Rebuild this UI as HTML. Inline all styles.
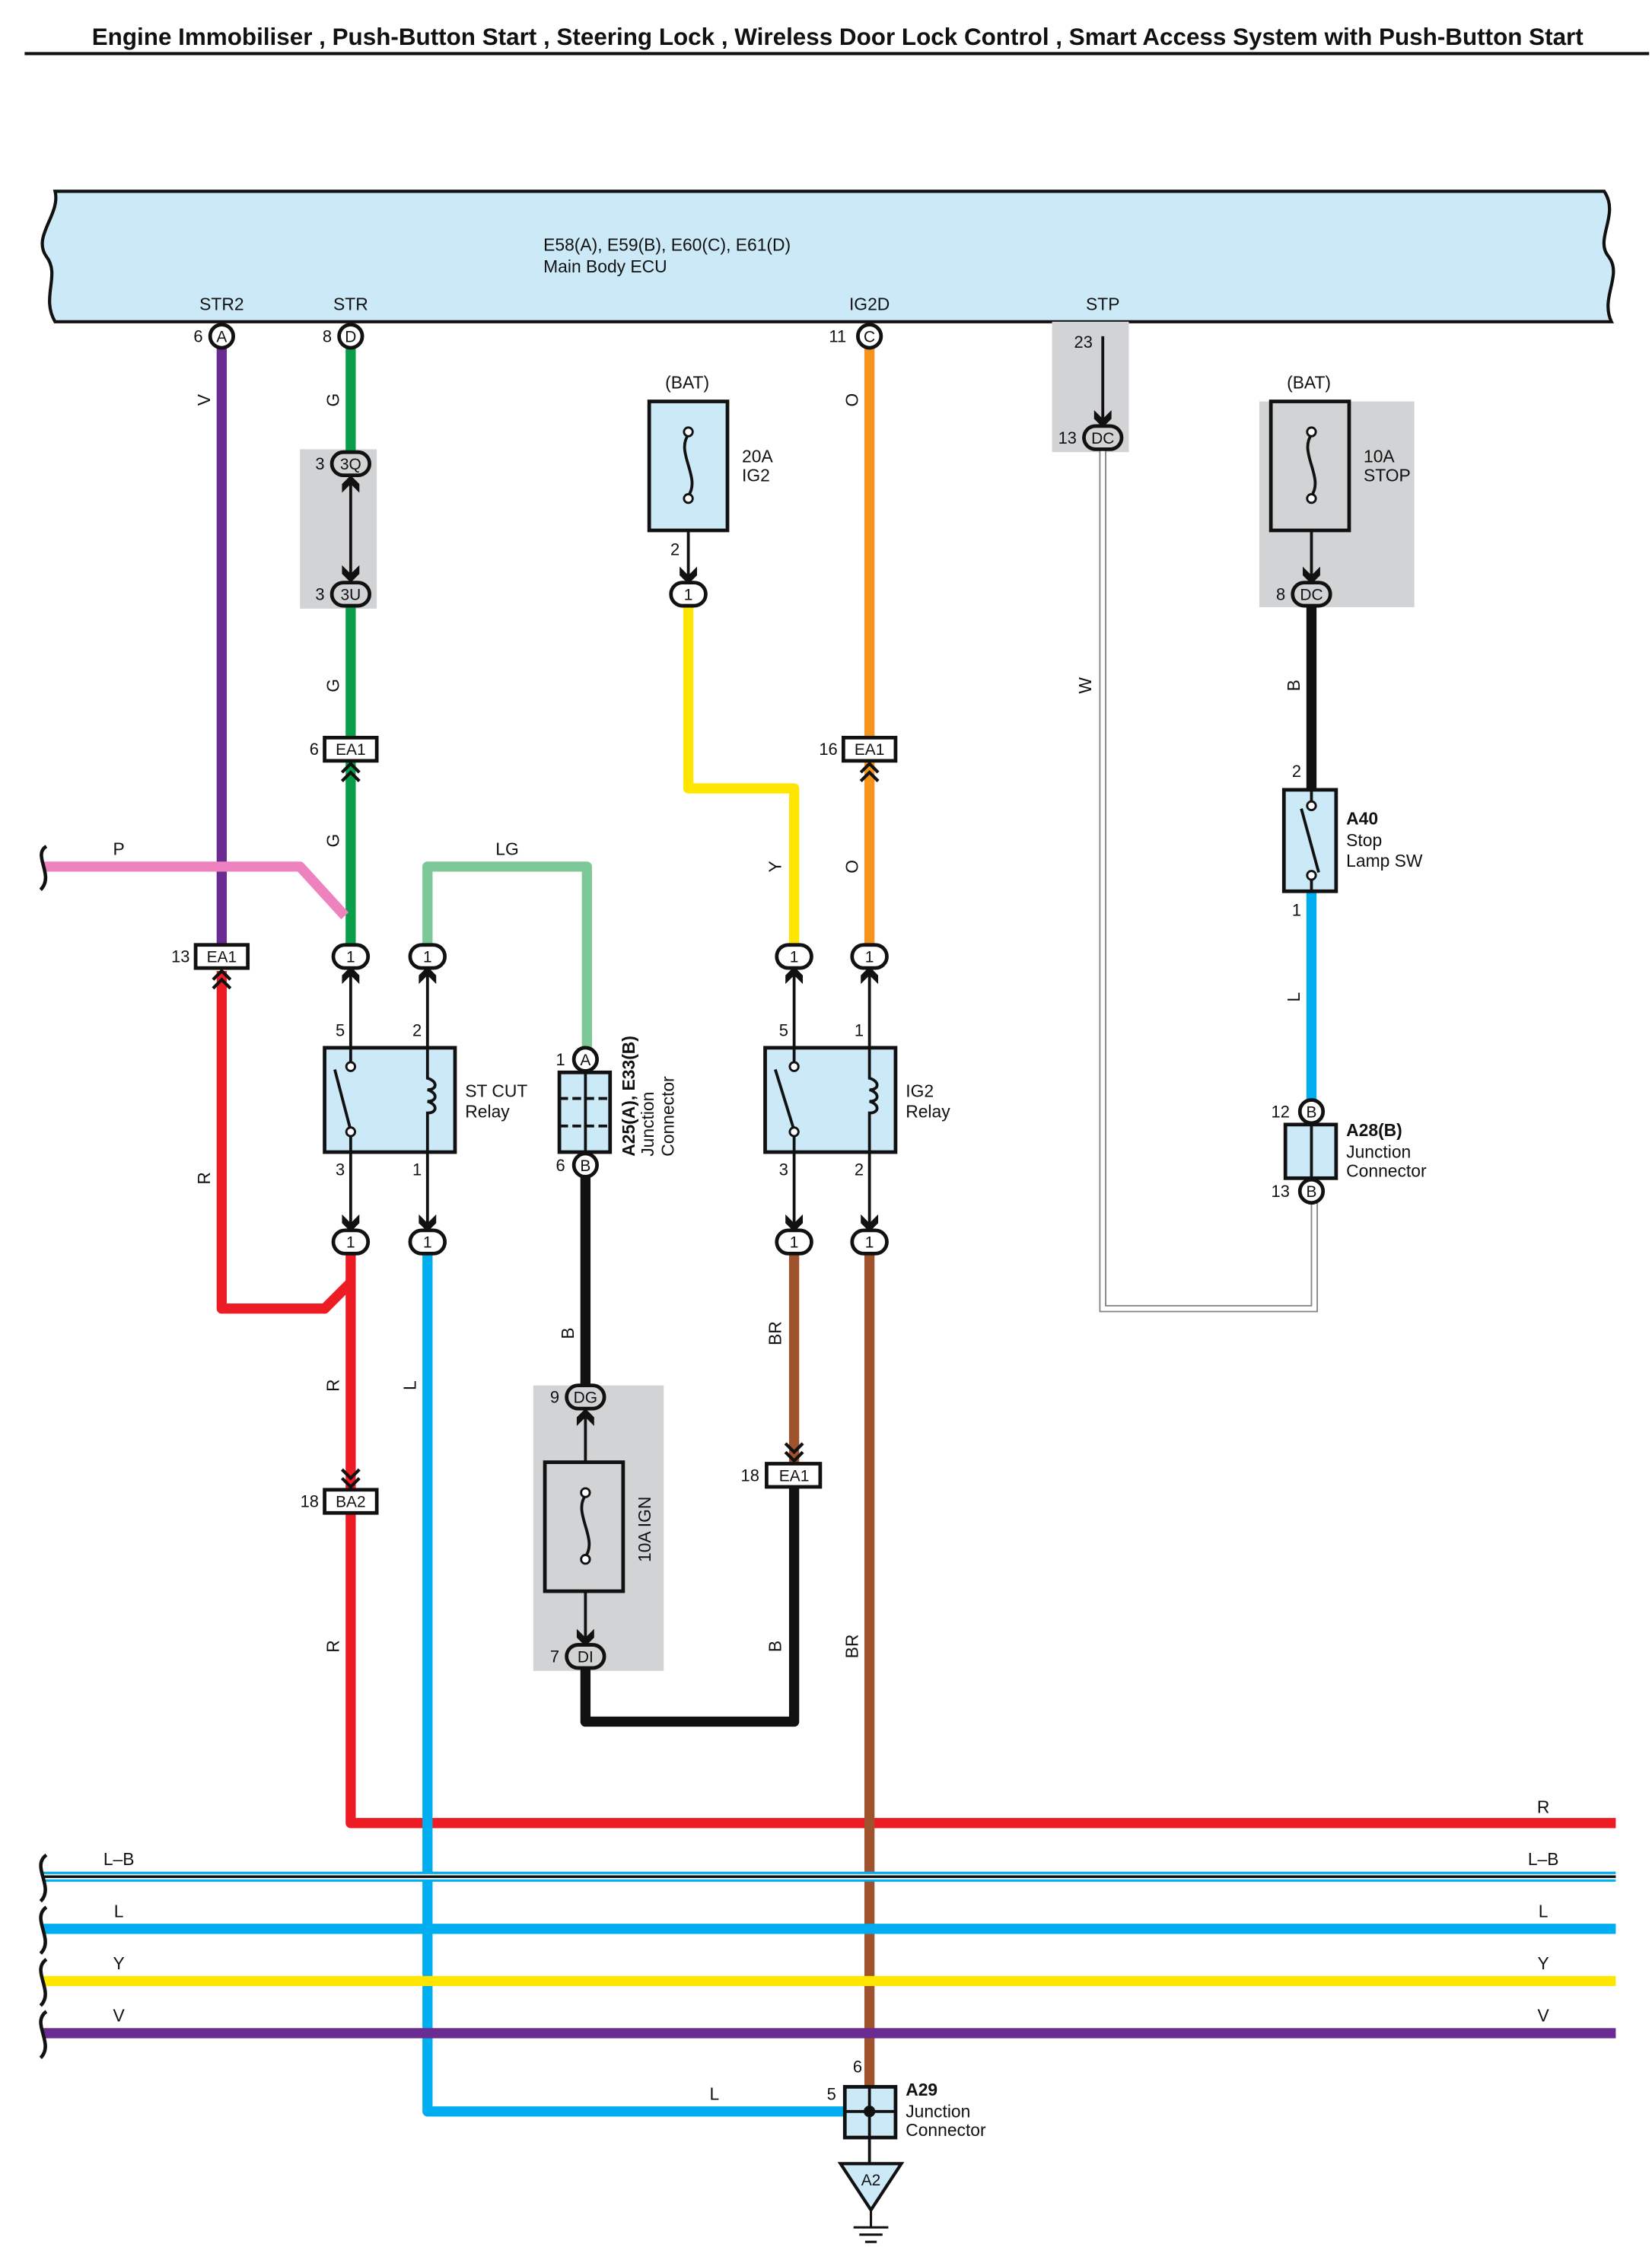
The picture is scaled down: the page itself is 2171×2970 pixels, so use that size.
<!DOCTYPE html>
<html><head><meta charset="utf-8"><style>
html,body{margin:0;padding:0;background:#fff}
svg{display:block}
text{font-family:"Liberation Sans",Arial,sans-serif;fill:#111}
</style></head><body>
<svg width="2171" height="2970" viewBox="0 0 1140 1559.5" preserveAspectRatio="none" xmlns="http://www.w3.org/2000/svg">
<defs>
<path id="ad" d="M-6,-11 L0,-5 L6,-11 L6,-5 L0,1 L-6,-5Z" fill="#111"/>
<path id="au" d="M-6,11 L0,5 L6,11 L6,5 L0,-1 L-6,5Z" fill="#111"/>
<path id="dd" d="M-6,-14 L0,-8 L6,-14 M-6,-8 L0,-2 L6,-8" fill="none" stroke="#111" stroke-width="2.2"/>
<path id="du" d="M-6,14 L0,8 L6,14 M-6,8 L0,2 L6,8" fill="none" stroke="#111" stroke-width="2.2"/>
</defs>
<!-- title -->
<text x="578" y="31" font-size="16.5" font-weight="bold" text-anchor="middle">Engine Immobiliser , Push-Button Start , Steering Lock , Wireless Door Lock Control , Smart Access System with Push-Button Start</text>
<line x1="17" y1="37" x2="1138" y2="37" stroke="#111" stroke-width="2.2"/>
<!-- ECU -->
<path d="M38,132 L1107,132 C1118,148 1100,165 1110,177 C1120,190 1104,205 1112,222 L38,222 C28,205 42,190 32,177 C22,163 42,148 38,132Z" fill="#cce9f8" stroke="#111" stroke-width="2.2"/>
<text x="375" y="173" font-size="12">E58(A), E59(B), E60(C), E61(D)</text>
<text x="375" y="188" font-size="12">Main Body ECU</text>
<g font-size="12" text-anchor="middle">
<text x="153" y="214">STR2</text><text x="242" y="214">STR</text><text x="600" y="214">IG2D</text><text x="761" y="214">STP</text>
</g>
<!-- grey boxes -->
<rect x="726" y="222" width="53" height="90" fill="#d1d3d4"/>
<rect x="207" y="310" width="53" height="110" fill="#d1d3d4"/>
<rect x="869" y="277" width="107" height="142" fill="#d1d3d4"/>
<rect x="368" y="956" width="90" height="197" fill="#d1d3d4"/>
<!-- W wire -->
<path d="M761,310 L761,903 L907,903 L907,822" fill="none" stroke="#888" stroke-width="5"/>
<path d="M761,310 L761,903 L907,903 L907,822" fill="none" stroke="#fff" stroke-width="3"/>
<!-- wires -->
<g fill="none" stroke-width="7" stroke-linejoin="round">
<path d="M153,232 L153,655" stroke="#6a2c91"/>
<path d="M242,232 L242,318 M242,412 L242,655" stroke="#0a9e4a"/>
<path d="M30,598 L207,598 L238,632" stroke="#ee82bf"/>
<path d="M295,655 L295,598 L405,598 L405,726" stroke="#7cc896"/>
<path d="M475,415 L475,544 L548,544 L548,655" stroke="#ffe600"/>
<path d="M600,232 L600,655" stroke="#f7941d"/>
<path d="M153,670 L153,903 L224,903 L242,885" stroke="#ed1c24"/>
<path d="M242,862 L242,1030 M242,1042 L242,1258 L1115,1258" stroke="#ed1c24"/>
<path d="M295,862 L295,1457 L583,1457" stroke="#00aeef"/>
<path d="M600,862 L600,1440" stroke="#a0522d"/>
<path d="M548,862 L548,1010" stroke="#a0522d"/>
<path d="M404,810 L404,964 M404,1150 L404,1188 L548,1188 L548,1024" stroke="#111"/>
<path d="M905,415 L905,545" stroke="#111"/>
<path d="M905,615 L905,762" stroke="#00aeef"/>
<path d="M30,1295 L1115,1295" stroke="#00aeef"/>
<path d="M30,1331 L1115,1331" stroke="#00aeef"/>
<path d="M30,1367 L1115,1367" stroke="#ffe600"/>
<path d="M30,1403 L1115,1403" stroke="#6a2c91"/>
</g>
<line x1="30" y1="1295" x2="1115" y2="1295" stroke="#fff" stroke-width="3.6"/>
<line x1="30" y1="1295" x2="1115" y2="1295" stroke="#111" stroke-width="1.8"/>
<!-- bus break marks -->
<g fill="none" stroke="#111" stroke-width="2.4">
<path d="M32,584 C22,590 38,604 28,614"/>
<path d="M32,1280 C21,1288 38,1302 28,1312"/>
<path d="M32,1316 C21,1324 38,1338 28,1348"/>
<path d="M32,1352 C21,1360 38,1374 28,1384"/>
<path d="M32,1388 C21,1396 38,1410 28,1420"/>
</g>
<!-- wire labels -->
<g font-size="12" text-anchor="middle">
<text transform="translate(145,276) rotate(-90)">V</text>
<text transform="translate(234,276) rotate(-90)">G</text>
<text transform="translate(234,473) rotate(-90)">G</text>
<text transform="translate(234,580) rotate(-90)">G</text>
<text transform="translate(592,276) rotate(-90)">O</text>
<text transform="translate(592,598) rotate(-90)">O</text>
<text transform="translate(539,598) rotate(-90)">Y</text>
<text transform="translate(753,473) rotate(-90)">W</text>
<text transform="translate(897,473) rotate(-90)">B</text>
<text transform="translate(897,688) rotate(-90)">L</text>
<text transform="translate(145,813) rotate(-90)">R</text>
<text transform="translate(234,956) rotate(-90)">R</text>
<text transform="translate(287,956) rotate(-90)">L</text>
<text transform="translate(396,920) rotate(-90)">B</text>
<text transform="translate(539,920) rotate(-90)">BR</text>
<text transform="translate(234,1136) rotate(-90)">R</text>
<text transform="translate(539,1136) rotate(-90)">B</text>
<text transform="translate(592,1136) rotate(-90)">BR</text>
<text x="82" y="590">P</text><text x="350" y="590">LG</text>
<text x="493" y="1449">L</text>
<text x="82" y="1287">L–B</text><text x="1065" y="1287">L–B</text>
<text x="82" y="1323">L</text><text x="1065" y="1323">L</text>
<text x="82" y="1359">Y</text><text x="1065" y="1359">Y</text>
<text x="82" y="1395">V</text><text x="1065" y="1395">V</text>
<text x="1065" y="1251">R</text>
</g>
<!-- thin lines -->
<g stroke="#111" stroke-width="2" fill="none">
<line x1="242" y1="330" x2="242" y2="400"/>
<line x1="761" y1="232" x2="761" y2="294"/>
<line x1="475" y1="345" x2="475" y2="402"/>
<line x1="905" y1="345" x2="905" y2="402"/>
<line x1="404" y1="974" x2="404" y2="1135"/>
<line x1="242" y1="668" x2="242" y2="850"/>
<line x1="295" y1="668" x2="295" y2="850"/>
<line x1="548" y1="668" x2="548" y2="850"/>
<line x1="600" y1="668" x2="600" y2="850"/>
</g>
<!-- relays -->
<g stroke="#111" stroke-width="2.5" fill="#cce9f8">
<rect x="224" y="723" width="90" height="72"/>
<rect x="528" y="723" width="90" height="72"/>
<rect x="448" y="277" width="54" height="89"/>
<rect x="877" y="277" width="54" height="89" fill="#d1d3d4"/>
<rect x="376" y="1009" width="54" height="89" fill="#d1d3d4"/>
<rect x="386" y="740" width="35" height="55"/>
<rect x="886" y="545" width="36" height="70"/>
<rect x="887" y="776" width="35" height="37"/>
<rect x="583" y="1440" width="35" height="35"/>
</g>
<g stroke="#111" stroke-width="2" fill="none">
<line x1="404" y1="740" x2="404" y2="795"/><line x1="905" y1="776" x2="905" y2="813"/>
<path d="M386,758 H421 M386,777 H421" stroke-dasharray="6,3"/>
<path d="M242,723 V735 M242,782 V795 M231,738 L242,780" />
<path d="M295,723 V744 C302,746 302,752 295,752 C302,754 302,760 295,760 C302,762 302,768 295,768 V795"/>
<path d="M548,723 V735 M548,782 V795 M535,738 L548,780"/>
<path d="M600,723 V744 C607,746 607,752 600,752 C607,754 607,760 600,760 C607,762 607,768 600,768 V795"/>
<path d="M475,300 C466,312 484,330 475,342"/>
<path d="M905,300 C896,312 914,330 905,342"/>
<path d="M404,1032 C395,1044 413,1062 404,1074"/>
<path d="M905,545 V556 M905,604 V615 M898,558 L910,602"/>
<path d="M583,1457 H618 M600,1440 V1475"/>
</g>
<g fill="#fff" stroke="#111" stroke-width="1.5">
<circle cx="242" cy="736" r="3"/><circle cx="242" cy="781" r="3"/>
<circle cx="548" cy="736" r="3"/><circle cx="548" cy="781" r="3"/>
<circle cx="475" cy="298" r="3"/><circle cx="475" cy="344" r="3"/>
<circle cx="905" cy="298" r="3"/><circle cx="905" cy="344" r="3"/>
<circle cx="404" cy="1030" r="3"/><circle cx="404" cy="1076" r="3"/>
<circle cx="905" cy="556" r="3"/><circle cx="905" cy="604" r="3"/>
</g>
<circle cx="600" cy="1457" r="4" fill="#111"/>
<!-- arrows -->
<use href="#ad" x="761" y="294"/><use href="#ad" x="475" y="402"/><use href="#ad" x="905" y="402"/>
<use href="#ad" x="242" y="401"/><use href="#au" x="242" y="329"/>
<use href="#au" x="242" y="668"/><use href="#au" x="295" y="668"/><use href="#au" x="548" y="668"/><use href="#au" x="600" y="668"/>
<use href="#ad" x="242" y="849"/><use href="#ad" x="295" y="849"/><use href="#ad" x="548" y="849"/><use href="#ad" x="600" y="849"/>
<use href="#au" x="404" y="973"/><use href="#ad" x="404" y="1135"/>
<use href="#du" x="242" y="525"/><use href="#du" x="600" y="525"/><use href="#du" x="153" y="668"/>
<use href="#dd" x="242" y="1028"/><use href="#dd" x="548" y="1010"/>
<!-- connectors -->
<g stroke="#111" stroke-width="2.5" fill="#fff">
<circle cx="153" cy="232" r="8"/><circle cx="242" cy="232" r="8"/><circle cx="600" cy="232" r="8"/>
<rect x="748" y="294" width="26" height="16" rx="8" fill="#d1d3d4"/>
<rect x="229" y="312" width="26" height="16" rx="8" fill="#d1d3d4"/>
<rect x="229" y="402" width="26" height="16" rx="8" fill="#d1d3d4"/>
<rect x="892" y="402" width="26" height="16" rx="8" fill="#d1d3d4"/>
<rect x="391" y="956" width="26" height="16" rx="8" fill="#d1d3d4"/>
<rect x="391" y="1135" width="26" height="16" rx="8" fill="#d1d3d4"/>
<rect x="463" y="402" width="24" height="16" rx="8"/>
<rect x="230" y="652" width="24" height="16" rx="8"/><rect x="283" y="652" width="24" height="16" rx="8"/>
<rect x="536" y="652" width="24" height="16" rx="8"/><rect x="588" y="652" width="24" height="16" rx="8"/>
<rect x="230" y="849" width="24" height="16" rx="8"/><rect x="283" y="849" width="24" height="16" rx="8"/>
<rect x="536" y="849" width="24" height="16" rx="8"/><rect x="588" y="849" width="24" height="16" rx="8"/>
<circle cx="404" cy="731" r="8"/><circle cx="404" cy="804" r="8"/>
<circle cx="905" cy="767" r="8"/><circle cx="905" cy="822" r="8"/>
<rect x="224" y="509" width="36" height="16"/><rect x="582" y="509" width="36" height="16"/>
<rect x="135" y="652" width="36" height="16"/><rect x="224" y="1028" width="36" height="16"/>
<rect x="529" y="1010" width="37" height="16"/>
</g>
<g font-size="11" text-anchor="middle">
<text x="153" y="236">A</text><text x="242" y="236">D</text><text x="600" y="236">C</text>
<text x="761" y="306">DC</text><text x="242" y="324">3Q</text><text x="242" y="414">3U</text>
<text x="905" y="414">DC</text><text x="404" y="968">DG</text><text x="404" y="1147">DI</text>
<text x="475" y="414">1</text>
<text x="242" y="664">1</text><text x="295" y="664">1</text><text x="548" y="664">1</text><text x="600" y="664">1</text>
<text x="242" y="861">1</text><text x="295" y="861">1</text><text x="548" y="861">1</text><text x="600" y="861">1</text>
<text x="404" y="735">A</text><text x="404" y="808">B</text><text x="905" y="771">B</text><text x="905" y="826">B</text>
<text x="242" y="521">EA1</text><text x="600" y="521">EA1</text><text x="153" y="664">EA1</text>
<text x="242" y="1040">BA2</text><text x="548" y="1022">EA1</text>
</g>
<g font-size="11.5" text-anchor="end">
<text x="140" y="236">6</text><text x="229" y="236">8</text><text x="584" y="236">11</text>
<text x="743" y="306">13</text><text x="224" y="324">3</text><text x="224" y="414">3</text>
<text x="887" y="414">8</text><text x="386" y="968">9</text><text x="386" y="1147">7</text>
<text x="469" y="383">2</text><text x="220" y="521">6</text><text x="578" y="521">16</text>
<text x="131" y="664">13</text><text x="220" y="1040">18</text><text x="524" y="1022">18</text>
<text x="390" y="735">1</text><text x="390" y="808">6</text>
<text x="890" y="771">12</text><text x="890" y="826">13</text>
<text x="898" y="536">2</text><text x="898" y="632">1</text>
<text x="577" y="1449">5</text><text x="595" y="1430">6</text>
<text x="754" y="240">23</text>
<text x="238" y="715">5</text><text x="291" y="715">2</text><text x="238" y="811">3</text><text x="291" y="811">1</text>
<text x="544" y="715">5</text><text x="596" y="715">1</text><text x="544" y="811">3</text><text x="596" y="811">2</text>
</g>
<g font-size="12">
<text x="459" y="268">(BAT)</text><text x="888" y="268">(BAT)</text>
<text x="512" y="319">20A</text><text x="512" y="332">IG2</text>
<text x="941" y="319">10A</text><text x="941" y="332">STOP</text>
<text x="321" y="757">ST CUT</text><text x="321" y="771">Relay</text>
<text x="625" y="757">IG2</text><text x="625" y="771">Relay</text>
<text x="929" y="569" font-weight="bold">A40</text><text x="929" y="584">Stop</text><text x="929" y="598">Lamp SW</text>
<text x="929" y="784" font-weight="bold">A28(B)</text><text x="929" y="799">Junction</text><text x="929" y="812">Connector</text>
<text x="625" y="1446" font-weight="bold">A29</text><text x="625" y="1461">Junction</text><text x="625" y="1474">Connector</text>
<text transform="translate(438,798) rotate(-90)" font-weight="bold">A25(A), E33(B)</text>
<text transform="translate(451,798) rotate(-90)">Junction</text>
<text transform="translate(465,798) rotate(-90)">Connector</text>
<text transform="translate(449,1078) rotate(-90)">10A IGN</text>
</g>
<!-- ground -->
<line x1="600" y1="1475" x2="600" y2="1493" stroke="#111" stroke-width="2"/>
<path d="M580,1493 L622,1493 L601,1525Z" fill="#cce9f8" stroke="#111" stroke-width="2.2"/>
<text x="601" y="1508" font-size="11" text-anchor="middle">A2</text>
<g stroke="#111" stroke-width="1.6">
<line x1="601" y1="1525" x2="601" y2="1537"/>
<line x1="589" y1="1537" x2="613" y2="1537"/><line x1="593" y1="1542" x2="609" y2="1542"/><line x1="597" y1="1547" x2="605" y2="1547"/>
</g>
</svg>
</body></html>
